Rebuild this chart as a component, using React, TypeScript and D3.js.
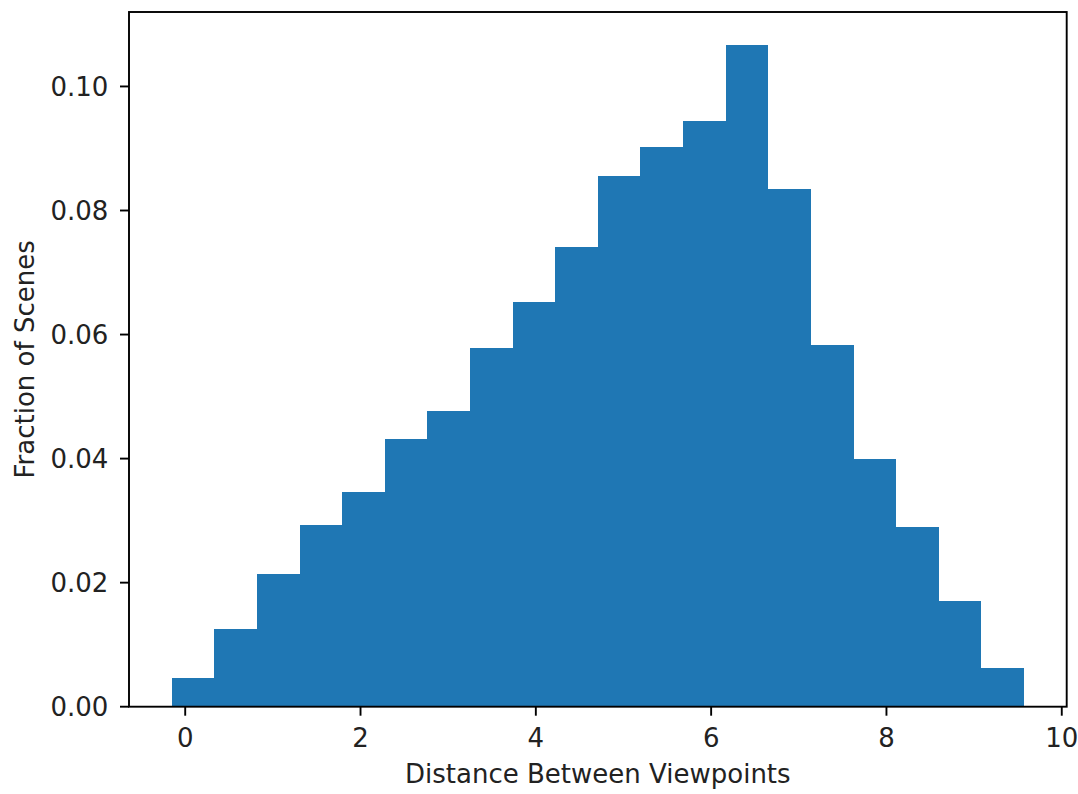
import React from "react";
import * as d3 from "d3";

// Histogram bin edges (distance between viewpoints) and bar heights (fraction of scenes)
const binEdges = [
  -0.155, 0.331, 0.817, 1.304, 1.79, 2.276, 2.762, 3.249, 3.735, 4.221, 4.707,
  5.194, 5.68, 6.166, 6.652, 7.139, 7.625, 8.111, 8.597, 9.084, 9.57,
];
const fractions = [
  0.00457, 0.01247, 0.02138, 0.02922, 0.03454, 0.04323, 0.04763, 0.05789,
  0.0653, 0.0741, 0.08553, 0.09016, 0.09446, 0.10667, 0.0835, 0.05826,
  0.04001, 0.029, 0.01707, 0.00619,
];
const xTicks = [0, 2, 4, 6, 8, 10];
const yTicks = [0, 0.02, 0.04, 0.06, 0.08, 0.1];

const W = 1078;
const H = 794;
const plot = { left: 129, top: 12, right: 1066.7, bottom: 706.7 };
const FONT = "'DejaVu Sans', sans-serif";
const FS = 26;
const BAR = "#1f77b4";
const INK = "#222";

export default function App() {
  const lo = binEdges[0];
  const hi = binEdges[binEdges.length - 1];
  const pad = (hi - lo) * 0.05;
  const x = d3.scaleLinear().domain([lo - pad, hi + pad]).range([plot.left, plot.right]);
  const yMax = (d3.max(fractions) as number) * 1.05;
  const y = d3.scaleLinear().domain([0, yMax]).range([plot.bottom, plot.top]);

  const bars = fractions.map((v, i) => ({ x0: binEdges[i], x1: binEdges[i + 1], v }));
  const tickLen = 9;
  const lw = 1.9;

  return (
    <svg
      width={W}
      height={H}
      style={{ position: "absolute", left: 0, top: 0, background: "#fff" }}
      fontFamily={FONT}
    >
      <rect x={0} y={0} width={W} height={H} fill="#fff" />
      <g shapeRendering="crispEdges">
        {bars.map((b, i) => (
          <rect
            key={i}
            x={x(b.x0)}
            y={y(b.v)}
            width={x(b.x1) - x(b.x0)}
            height={y(0) - y(b.v)}
            fill={BAR}
          />
        ))}
      </g>
      {/* spines */}
      <rect
        x={plot.left}
        y={plot.top}
        width={plot.right - plot.left}
        height={plot.bottom - plot.top}
        fill="none"
        stroke="#000"
        strokeWidth={lw}
      />
      {/* x axis ticks */}
      <g>
        {xTicks.map((t) => (
          <g key={t} transform={`translate(${x(t)},${plot.bottom})`}>
            <line y1={0} y2={tickLen} stroke="#000" strokeWidth={lw} />
            <text y={40} textAnchor="middle" fontSize={FS} fill={INK}>
              {d3.format("d")(t)}
            </text>
          </g>
        ))}
      </g>
      {/* y axis ticks */}
      <g>
        {yTicks.map((t) => (
          <g key={t} transform={`translate(${plot.left},${y(t)})`}>
            <line x1={0} x2={-tickLen} stroke="#000" strokeWidth={lw} />
            <text x={-20.7} dy="0.36em" textAnchor="end" fontSize={FS} fill={INK}>
              {d3.format(".2f")(t)}
            </text>
          </g>
        ))}
      </g>
      <text
        x={(plot.left + plot.right) / 2}
        y={783}
        textAnchor="middle"
        fontSize={FS}
        fill={INK}
      >
        Distance Between Viewpoints
      </text>
      <text
        transform={`translate(33.5,${(plot.top + plot.bottom) / 2}) rotate(-90)`}
        textAnchor="middle"
        fontSize={FS}
        fill={INK}
      >
        Fraction of Scenes
      </text>
    </svg>
  );
}
